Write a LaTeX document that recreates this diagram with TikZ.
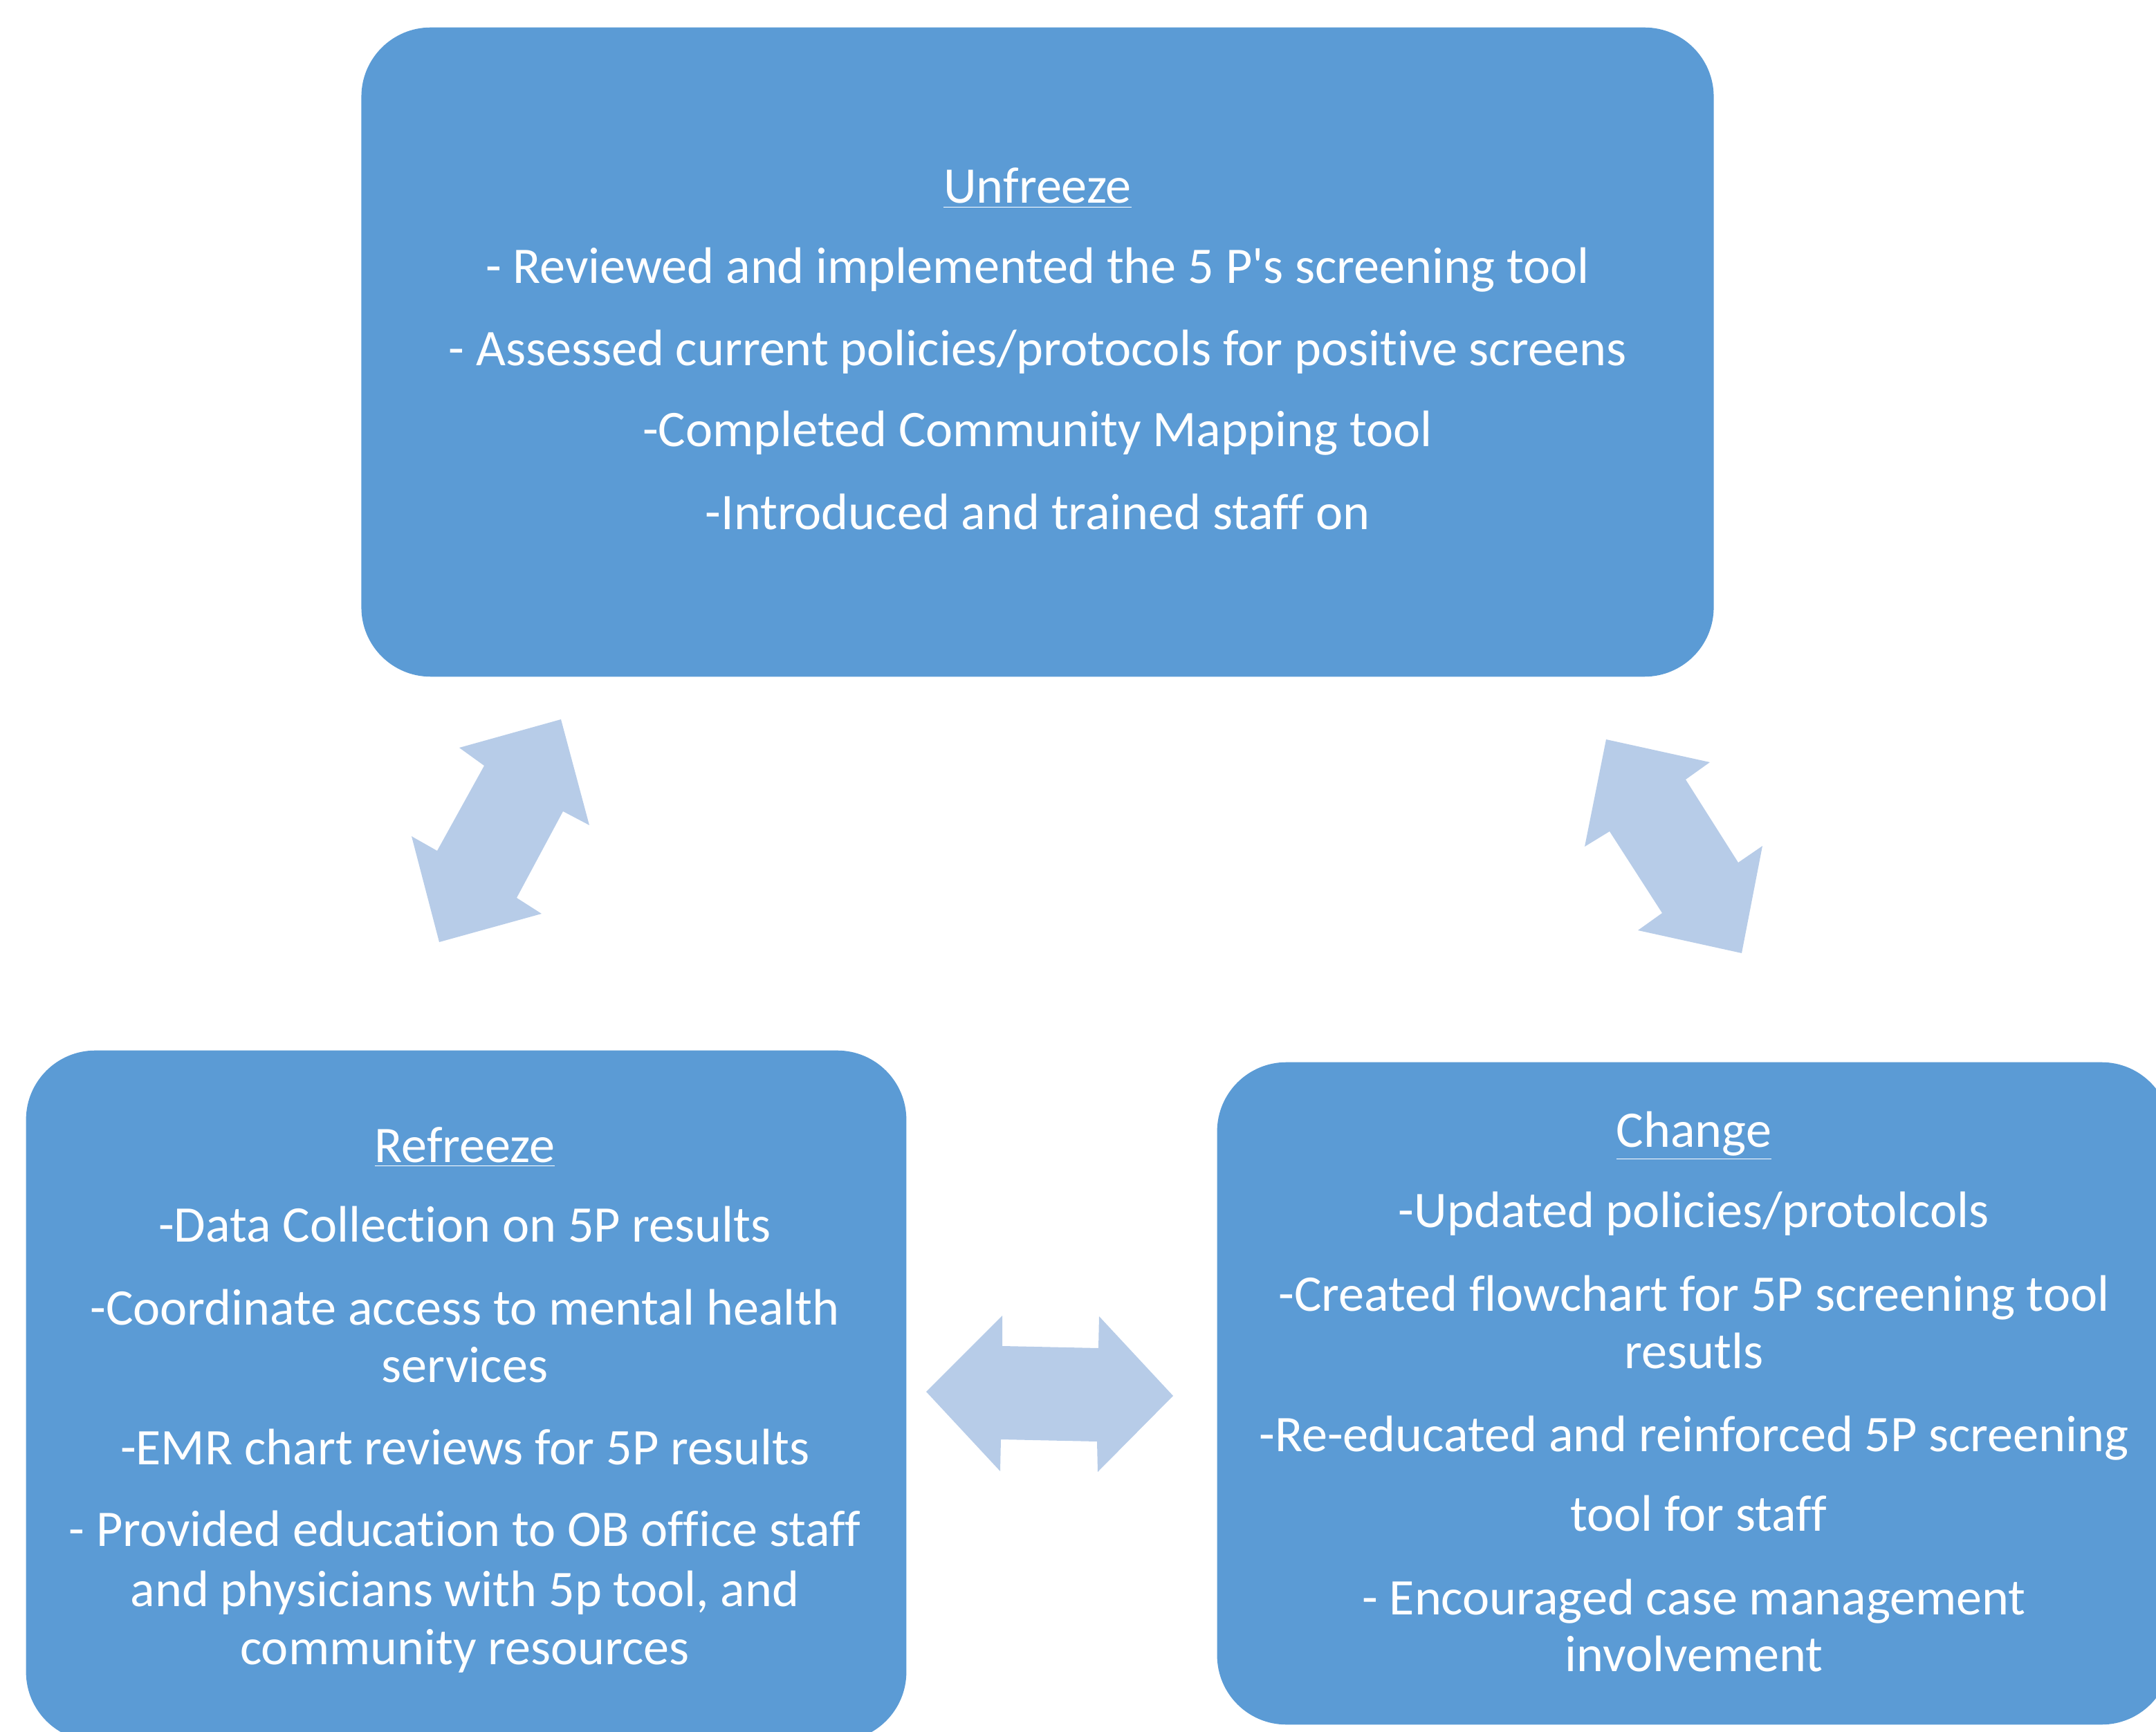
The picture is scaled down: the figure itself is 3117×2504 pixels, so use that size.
\documentclass[tikz,border=0pt]{standalone}
\usepackage{fontspec}
\setmainfont{Carlito}[Ligatures={NoCommon}]
\definecolor{boxblue}{HTML}{5B9BD5}
\definecolor{arrowblue}{HTML}{B7CCE8}
\begin{document}
\begin{tikzpicture}[x=0.01cm,y=-0.01cm,
  stagebox/.style={draw=none,fill=boxblue,rounded corners=1cm,inner sep=0pt},
  txt/.style={text=white,inner sep=0pt,anchor=base,font=\fontsize{21.1pt}{24pt}\selectfont},
  arr/.style={fill=arrowblue,draw=none}]
\useasboundingbox (0,0) rectangle (3117,2504);
\clip (0,0) rectangle (3117,2504);
% boxes
\node[stagebox,minimum width=19.54cm,minimum height=9.38cm] (unfreeze) at (1500,509) {};
\node[stagebox,minimum width=12.72cm,minimum height=9.98cm] (refreeze) at (674,2018) {};
\node[stagebox,minimum width=13.78cm,minimum height=9.57cm] (change) at (2449,2014.5) {};
% arrows
\fill[arr] (811,1040) -- (852,1193) -- (814,1173) -- (747,1298) -- (783,1321) -- (635,1362)
  -- (595,1209) -- (632,1230) -- (700,1107) -- (664,1081) -- cycle;
\fill[arr] (2322,1069) -- (2472,1102) -- (2437,1127) -- (2513,1247) -- (2548,1223) -- (2518,1378)
  -- (2368,1345) -- (2403,1320) -- (2327,1202) -- (2291,1224) -- cycle;
\fill[arr] (1339,2012) -- (1449,1902) -- (1449,1946) -- (1588,1949) -- (1589,1903) -- (1696,2018)
  -- (1587,2128) -- (1586,2084) -- (1447,2081) -- (1446,2127) -- cycle;
% Unfreeze text
\node[txt] (u0) at (1500,294) {\underline{Unfreeze}};
\node[txt] (u1) at (1500,410) {- Reviewed and implemented the 5 P\textquotesingle s screening tool};
\node[txt] (u2) at (1500,529) {- Assessed current policies/protocols for positive screens};
\node[txt] (u3) at (1500,646) {-Completed Community Mapping tool};
\node[txt] (u4) at (1500,766) {-Introduced and trained staff on};
% Refreeze text
\node[txt] (r0) at (672,1680) {\underline{Refreeze}};
\node[txt] (r1) at (672,1795) {-Data Collection on 5P results};
\node[txt] (r2) at (672,1915) {-Coordinate access to mental health};
\node[txt] (r3) at (672,1998) {services};
\node[txt] (r4) at (672,2117) {-EMR chart reviews for 5P results};
\node[txt] (r5) at (672,2235) {- Provided education to OB office staff};
\node[txt] (r6) at (672,2322) {and physicians with 5p tool, and};
\node[txt] (r7) at (672,2406) {community resources};
% Change text
\node[txt] (c0) at (2449,1658) {\underline{Change}};
\node[txt] (c1) at (2449,1774) {-Updated policies/protolcols};
\node[txt] (c2) at (2449,1895) {-Created flowchart for 5P screening tool};
\node[txt] (c3) at (2449,1978) {resutls};
\node[txt] (c4) at (2449,2098) {-Re-educated and reinforced 5P screening};
\node[txt] (c5) at (2456,2213) {tool for staff};
\node[txt] (c6) at (2449,2334) {- Encouraged case management};
\node[txt] (c7) at (2449,2416) {involvement};
\end{tikzpicture}
\end{document}
